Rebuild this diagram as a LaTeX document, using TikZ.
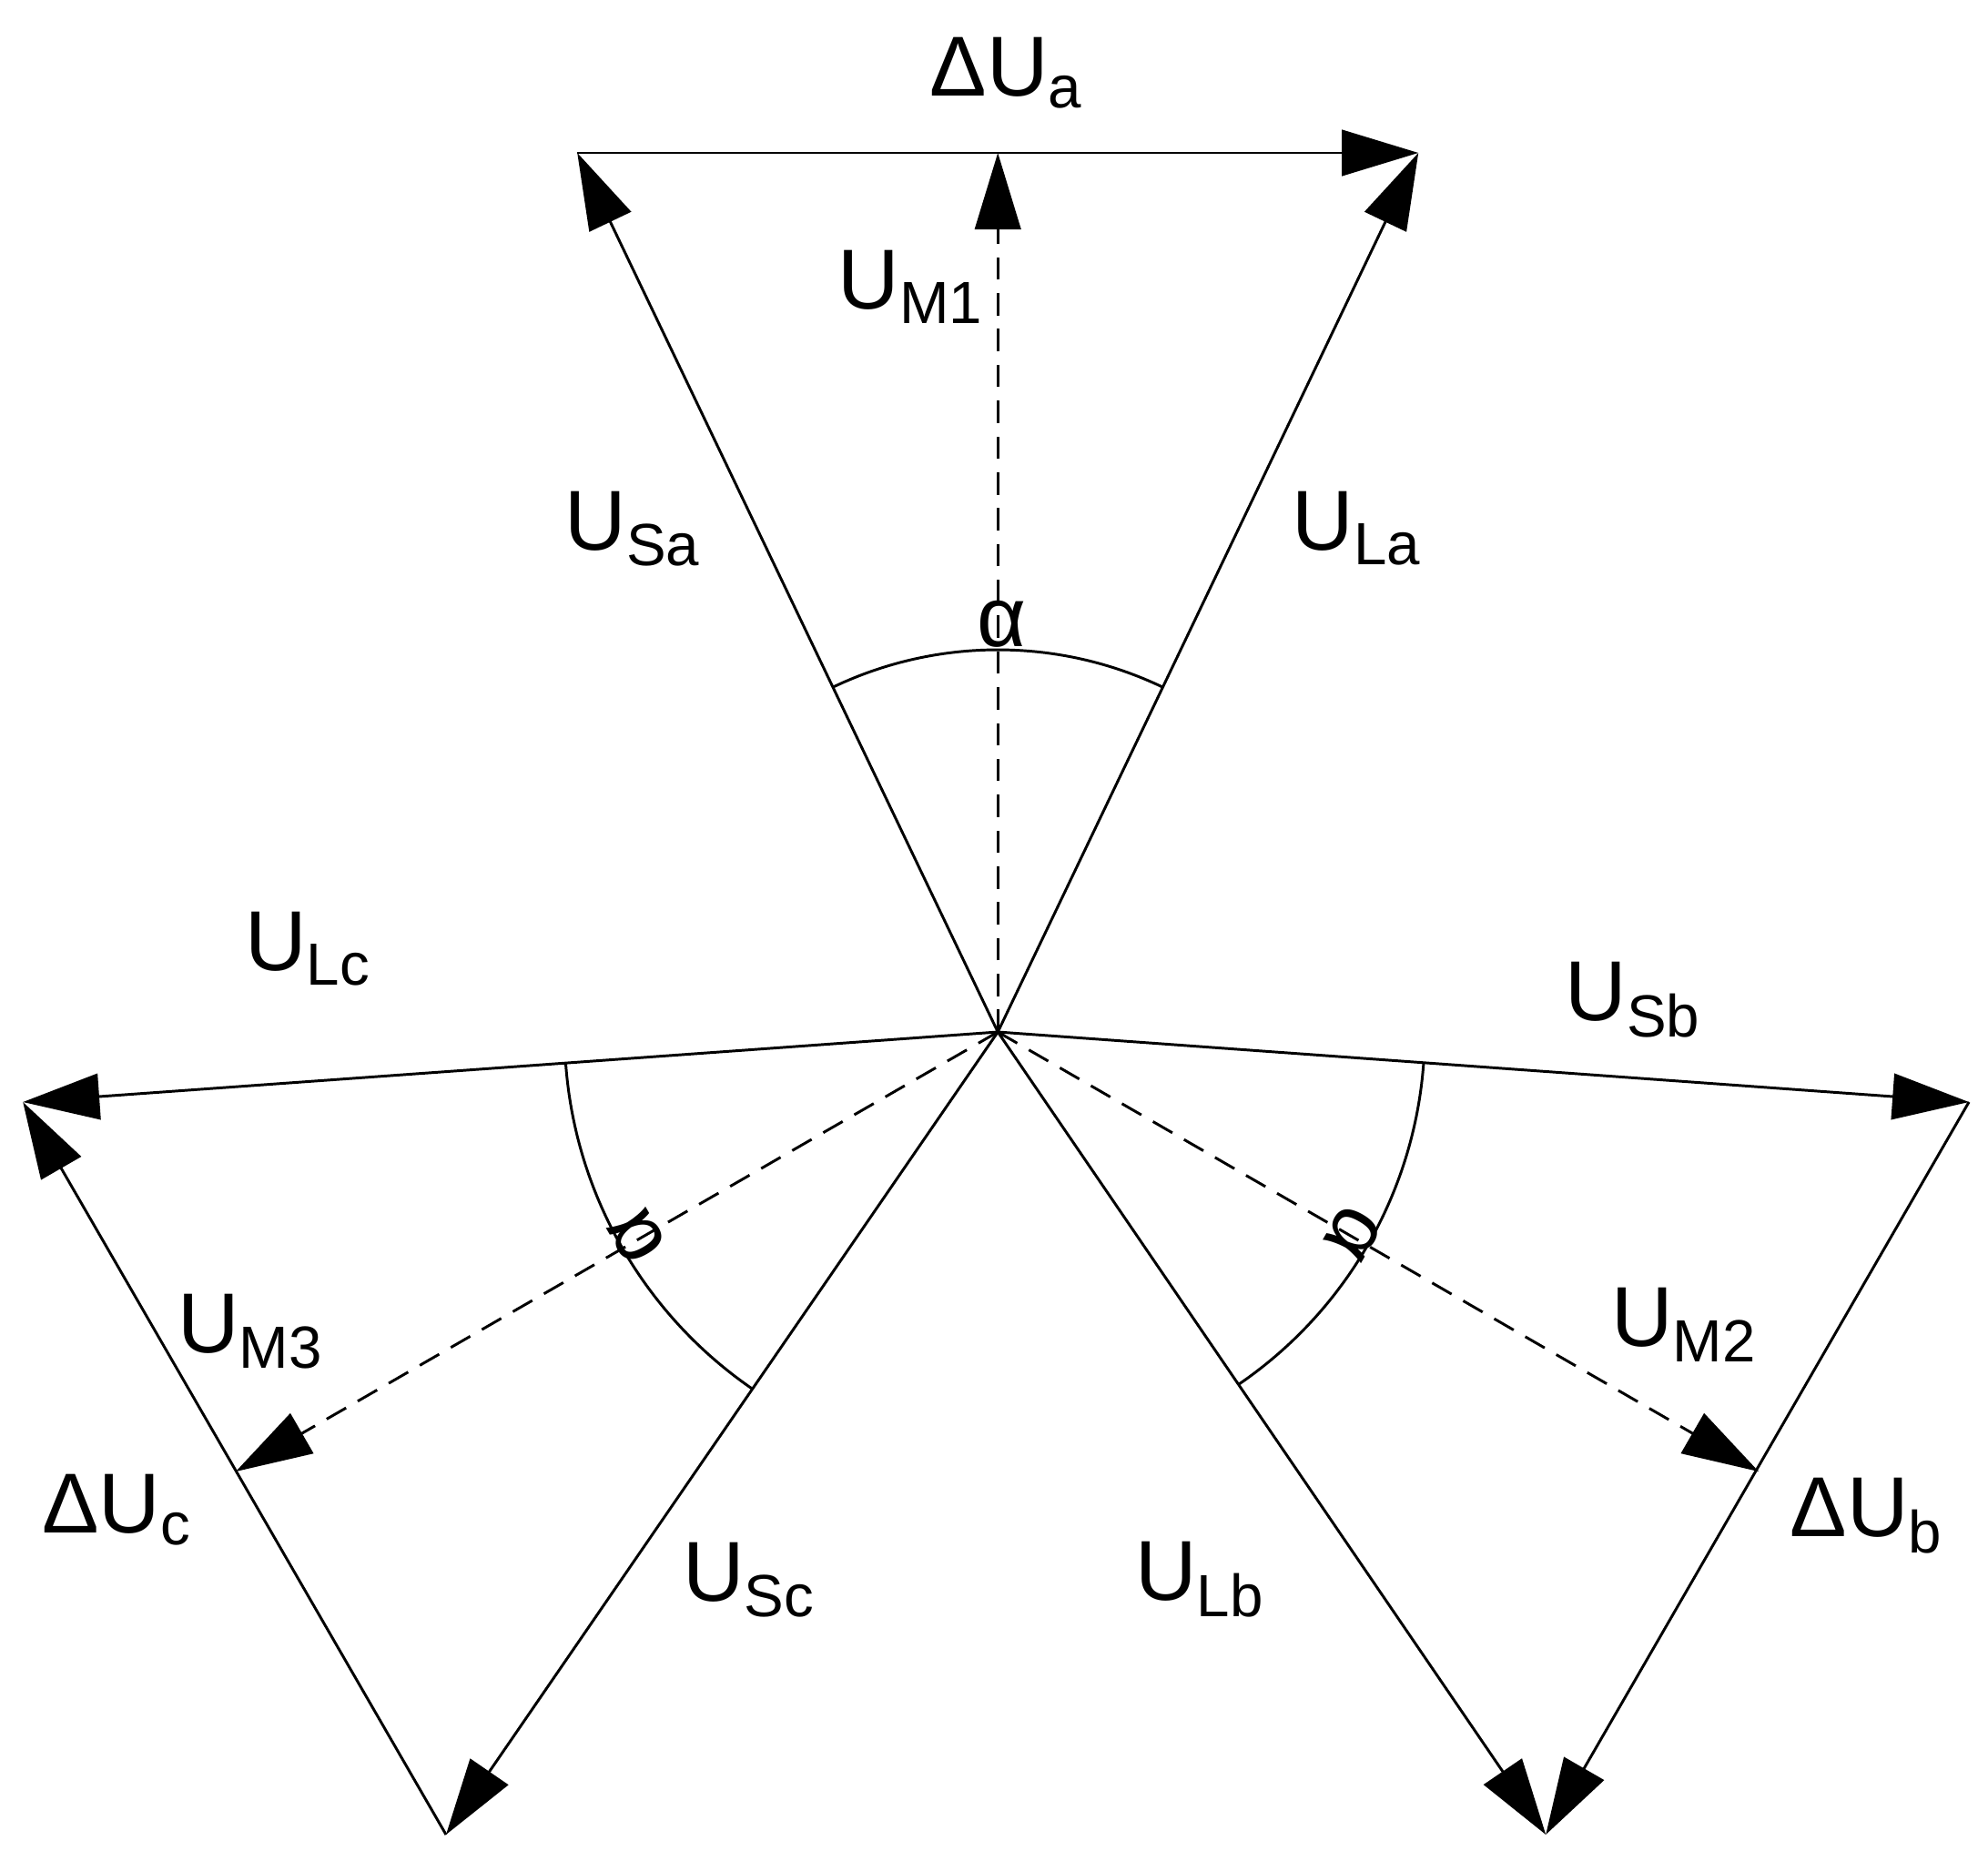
\documentclass[tikz,border=0pt]{standalone}
\usepackage{fontspec}
\setmainfont{Liberation Sans}
\usetikzlibrary{arrows.meta}
\begin{document}
\begin{tikzpicture}[
  vec/.style={line width=0.6pt,-{Triangle[length=0.6cm,width=0.36cm]}},
  dvec/.style={vec,dash pattern=on 5pt off 3pt},
  lbl/.style={font=\fontsize{19}{22}\selectfont,inner sep=0pt},
  arcs/.style={line width=0.6pt}]
\useasboundingbox (0,0) rectangle (15.6,14.68);
\coordinate (O) at (7.83,6.58);
\coordinate (A1) at (4.53,13.48);
\coordinate (A2) at (11.13,13.48);
\coordinate (M1) at (7.83,13.48);
\coordinate (L) at (0.18,6.03);
\coordinate (R) at (15.45,6.03);
\coordinate (BL) at (3.50,0.28);
\coordinate (BR) at (12.13,0.28);
\coordinate (C) at (1.85,3.13);
\coordinate (B) at (13.80,3.13);
\draw[vec] (O) -- (A1);
\draw[vec] (O) -- (A2);
\draw[vec] (A1) -- (A2);
\draw[dvec] (O) -- (M1);
\draw[vec] (O) -- (L);
\draw[vec] (O) -- (BL);
\draw[vec] (BL) -- (L);
\draw[dvec] (O) -- (C);
\draw[vec] (O) -- (R);
\draw[vec] (O) -- (BR);
\draw[vec] (R) -- (BR);
\draw[dvec] (O) -- (B);
\draw[arcs] (O) ++(115.5:3.0) arc[start angle=115.5,end angle=64.5,radius=3.0];
\draw[arcs] (O) ++(184.1:3.4) arc[start angle=184.1,end angle=235.5,radius=3.4];
\draw[arcs] (O) ++(-4.1:3.35) arc[start angle=-4.1,end angle=-55.7,radius=3.35];
\node[lbl] at (7.86,9.78) {α};
\node[lbl,rotate=120] at (5.0,4.98) {α};
\node[lbl,rotate=-120] at (10.62,5.0) {α};
\node[lbl] at (7.90,14.11) {ΔU\textsubscript{a}};
\node[lbl] at (7.15,12.43) {U\textsubscript{M1}};
\node[lbl] at (4.97,10.53) {U\textsubscript{Sa}};
\node[lbl] at (10.65,10.53) {U\textsubscript{La}};
\node[lbl] at (2.42,7.23) {U\textsubscript{Lc}};
\node[lbl] at (12.82,6.83) {U\textsubscript{Sb}};
\node[lbl] at (1.97,4.23) {U\textsubscript{M3}};
\node[lbl] at (13.22,4.28) {U\textsubscript{M2}};
\node[lbl] at (0.92,2.83) {ΔU\textsubscript{c}};
\node[lbl] at (14.65,2.78) {ΔU\textsubscript{b}};
\node[lbl] at (5.88,2.28) {U\textsubscript{Sc}};
\node[lbl] at (9.42,2.28) {U\textsubscript{Lb}};
\end{tikzpicture}
\end{document}
